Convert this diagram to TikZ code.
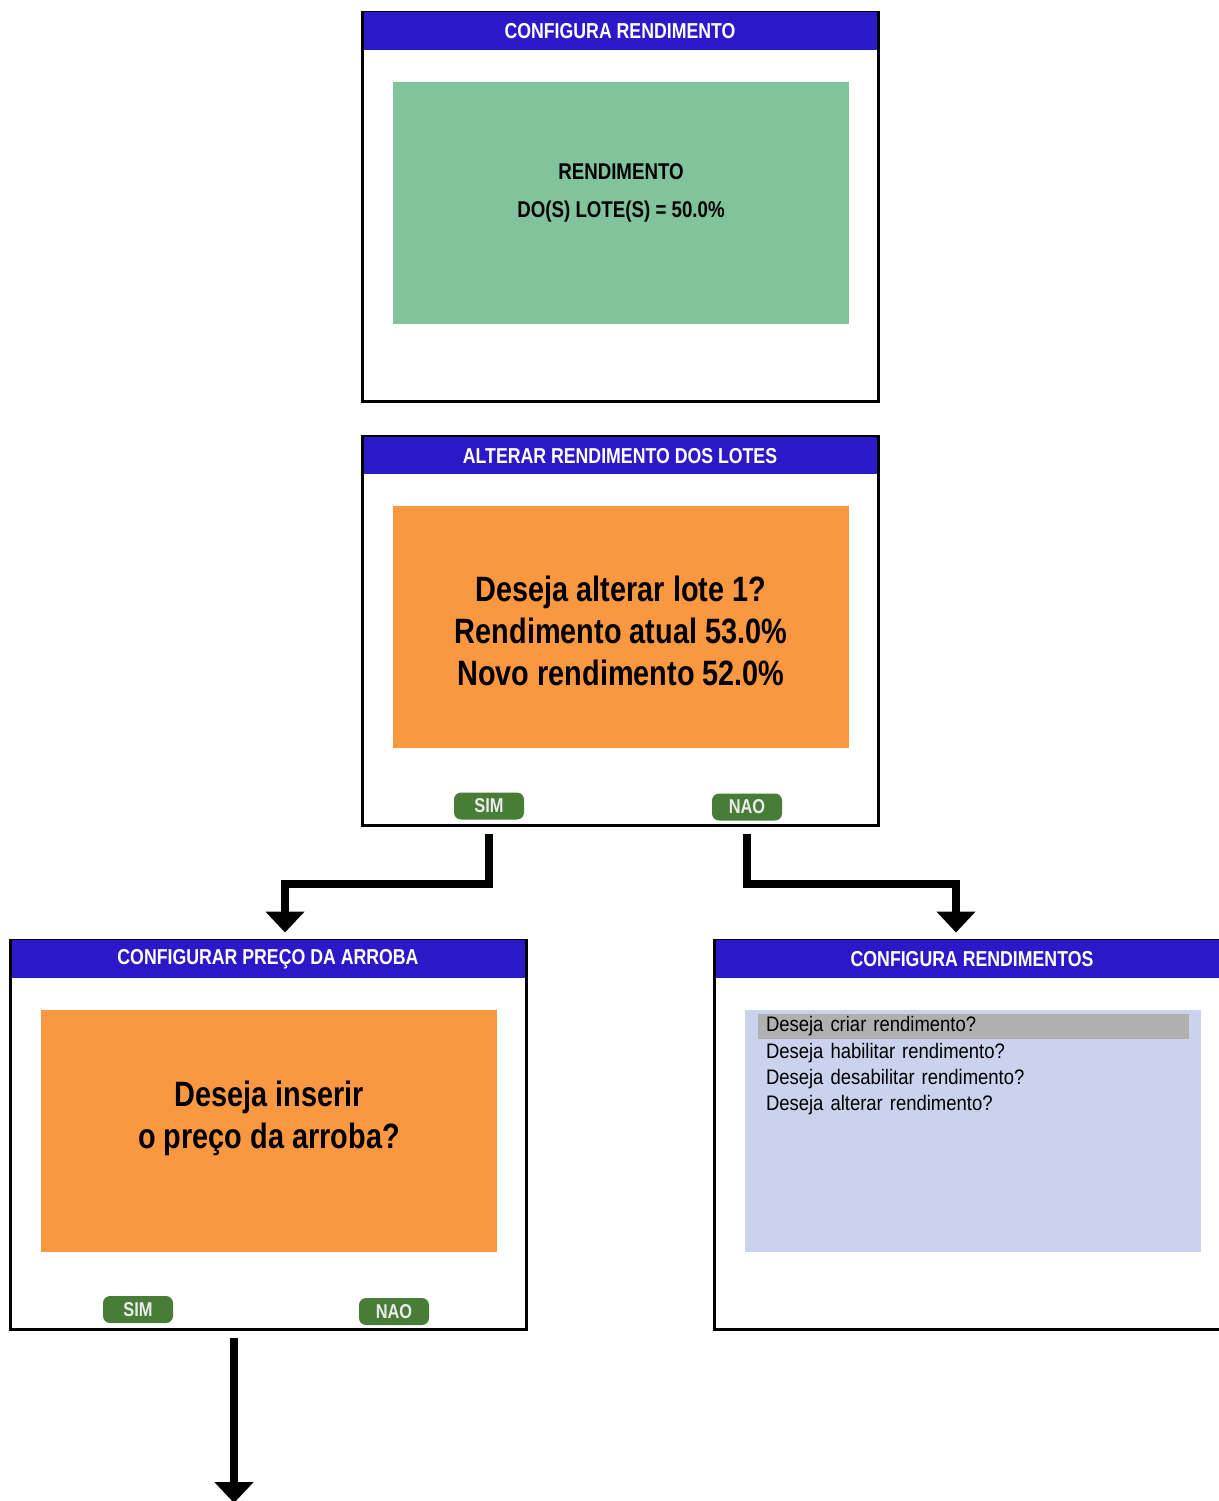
\documentclass[tikz,border=0pt]{standalone}
\usepackage{fontspec}
\setmainfont[FakeStretch=0.82]{Liberation Sans}
\newfontfamily\listafonte[FakeStretch=0.88]{Liberation Sans}
\usepackage{xcolor}
\usetikzlibrary{arrows.meta,positioning}
\definecolor{telaAzul}{RGB}{43,25,200}
\definecolor{painelVerde}{RGB}{129,196,155}
\definecolor{painelLaranja}{RGB}{250,152,66}
\definecolor{painelLilas}{RGB}{202,210,238}
\definecolor{selecaoCinza}{RGB}{176,176,176}
\definecolor{botaoVerde}{RGB}{72,125,56}
\tikzset{
    telabox/.style={
        draw, line width=1.5pt, minimum width=258pt, minimum height=194.5pt,
        inner sep=0pt},
    telatitulo/.style={
        fill=telaAzul, text=white, font=\fontsize{10.8}{12}\selectfont\bfseries,
        minimum width=256.5pt, minimum height=18.75pt, inner sep=0pt, anchor=north},
    painel/.style={minimum width=228pt, minimum height=121pt, inner sep=0pt, anchor=north},
    painelverde/.style={painel, fill=painelVerde},
    painellaranja/.style={painel, fill=painelLaranja},
    painellilas/.style={painel, fill=painelLilas},
    textomedio/.style={font=\fontsize{11.4}{19}\selectfont\bfseries, align=center},
    textogrande/.style={font=\fontsize{17.6}{21}\selectfont\bfseries, align=center},
    opcao/.style={
        font=\listafonte\fontsize{10.5}{11}\selectfont, text width=207.5pt, inner xsep=4pt,
        inner ysep=0pt, minimum height=12.65pt, align=left},
    botao/.style={
        fill=botaoVerde, rounded corners=3.5pt, text=black!8,
        font=\fontsize{10}{10}\selectfont\bfseries, minimum width=35pt,
        minimum height=13.5pt, inner sep=0pt},
    seta/.style={-{Triangle[width=19pt,length=10.5pt]}, line width=4pt},
}

\begin{document}
\begin{tikzpicture}[x=0.5pt, y=-0.5pt]

    \useasboundingbox (0,0) rectangle (1219,1501);
    \clip (0,0) rectangle (1219,1501);

    % --- Tela: configura rendimento ---------------------------------------------
    \node[telabox] (telaA) at (620,206.5) {};
    \node[telatitulo] (tituloA) at ([yshift=-0.75pt]telaA.north) {CONFIGURA RENDIMENTO};
    \node[painelverde] (painelA) at ([xshift=0.5pt,yshift=-35.5pt]telaA.north) {};
    \node[textomedio] (textoA) at ([yshift=5pt]painelA.center) {%
        RENDIMENTO\\DO(S) LOTE(S) = 50.0\%};

    % --- Tela: alterar rendimento dos lotes -------------------------------------
    \node[telabox] (telaB) at (620,631) {};
    \node[telatitulo] (tituloB) at ([yshift=-0.75pt]telaB.north) {ALTERAR RENDIMENTO DOS LOTES};
    \node[painellaranja] (painelB) at ([xshift=0.5pt,yshift=-35.5pt]telaB.north) {};
    \node[textogrande] (textoB) at ([yshift=-2pt]painelB.center) {%
        Deseja alterar lote 1?\\Rendimento atual 53.0\%\\Novo rendimento 52.0\%};
    \node[botao] (simB) at ([xshift=-65.5pt,yshift=10.5pt]telaB.south) {SIM};
    \node[botao] (naoB) at ([xshift=63.5pt,yshift=10pt]telaB.south) {NAO};

    % --- Tela: configurar preco da arroba ---------------------------------------
    \node[telabox] (telaC) at (268,1134.5) {};
    \node[telatitulo] (tituloC) at ([yshift=-0.75pt]telaC.north) {CONFIGURAR PREÇO DA ARROBA};
    \node[painellaranja] (painelC) at ([xshift=0.5pt,yshift=-35.5pt]telaC.north) {};
    \node[textogrande] (textoC) at ([yshift=6.5pt]painelC.center) {%
        Deseja inserir\\o preço da arroba?};
    \node[botao] (simC) at ([xshift=-65pt,yshift=10.5pt]telaC.south) {SIM};
    \node[botao] (naoC) at ([xshift=63pt,yshift=9.5pt]telaC.south) {NAO};

    % --- Tela: configura rendimentos --------------------------------------------
    \node[telabox] (telaD) at (972,1134.5) {};
    \node[telatitulo] (tituloD) at ([yshift=-0.75pt]telaD.north) {CONFIGURA RENDIMENTOS};
    \node[painellilas] (painelD) at ([xshift=0.5pt,yshift=-35.5pt]telaD.north) {};
    \node[opcao, fill=selecaoCinza, anchor=north west] (op1)
        at ([xshift=6.5pt,yshift=-2pt]painelD.north west) {Deseja criar rendimento?};
    \node[opcao, below=0pt of op1] (op2) {Deseja habilitar rendimento?};
    \node[opcao, below=0pt of op2] (op3) {Deseja desabilitar rendimento?};
    \node[opcao, below=0pt of op3] (op4) {Deseja alterar rendimento?};

    % --- Setas ------------------------------------------------------------------
    \coordinate (dobraA) at (285,884);
    \coordinate (dobraB) at (956,884);
    \coordinate (fimC) at (234,1503);
    \draw[seta, shorten <=3.5pt, shorten >=3pt] (simB |- telaB.south) |- (dobraA)
        -- (dobraA |- telaC.north);
    \draw[seta, shorten <=3.5pt, shorten >=3pt] (naoB |- telaB.south) |- (dobraB)
        -- (dobraB |- telaD.north);
    \draw[seta, shorten <=3.5pt] ([xshift=-17pt]telaC.south) -- (fimC);

\end{tikzpicture}
\end{document}
